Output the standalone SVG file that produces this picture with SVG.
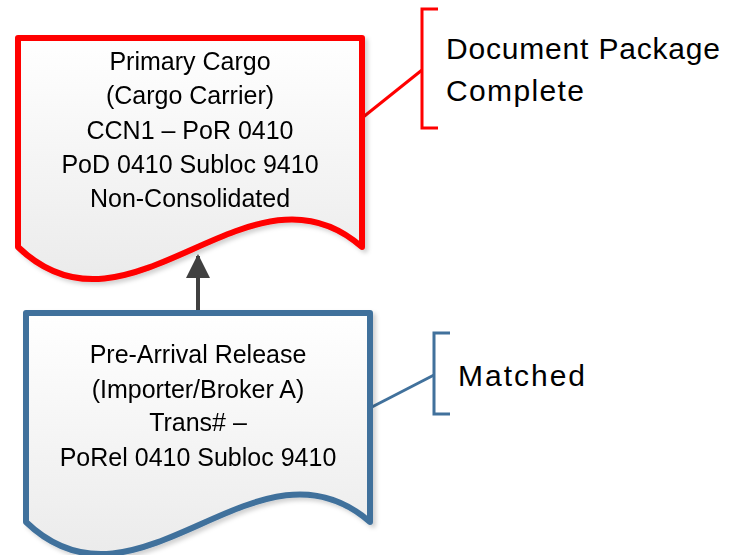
<svg xmlns="http://www.w3.org/2000/svg" width="736" height="555" viewBox="0 0 736 555">
<defs>
<linearGradient id="fillg" x1="0" y1="0" x2="0" y2="1">
<stop offset="0" stop-color="#ffffff"/>
<stop offset="1" stop-color="#ebebeb"/>
</linearGradient>
<filter id="sh" x="-10%" y="-10%" width="130%" height="130%">
<feDropShadow dx="3" dy="3" stdDeviation="2" flood-color="#000" flood-opacity="0.18"/>
</filter>
<marker id="arr" markerWidth="6" markerHeight="6" refX="5.5" refY="3" orient="auto" markerUnits="strokeWidth">
<path d="M0,0 L6,3 L0,6 Z" fill="#404040"/>
</marker>
</defs>
<style>
.doc{fill:url(#fillg);stroke-linejoin:round;}
.txt{font-family:"Liberation Sans",Arial,sans-serif;font-size:25px;fill:#000;text-anchor:middle;}
.lbl{font-family:"Liberation Sans",Arial,sans-serif;font-size:30px;fill:#000;}
</style>
<g id="connectors">
<line x1="198" y1="313" x2="198" y2="256" stroke="#404040" stroke-width="4" marker-end="url(#arr)"/>
<line x1="362" y1="118" x2="422" y2="70" stroke="#ff0000" stroke-width="3"/>
<line x1="370" y1="408" x2="434" y2="375" stroke="#41719c" stroke-width="3"/>
</g>
<g id="primary-cargo" filter="url(#sh)">
<path class="doc" d="M18,38 H362 V247 C250,148 130,355 18,247 Z" stroke="#ff0000" stroke-width="6"/>
<text class="txt" x="190" y="70">Primary Cargo</text>
<text class="txt" x="190" y="104">(Cargo Carrier)</text>
<text class="txt" x="190" y="139">CCN1 – PoR 0410</text>
<text class="txt" x="190" y="173">PoD 0410 Subloc 9410</text>
<text class="txt" x="190" y="207">Non-Consolidated</text>
</g>
<g id="pre-arrival" filter="url(#sh)">
<path class="doc" d="M26,313 H370 V522 C258,423 138,630 26,522 Z" stroke="#41719c" stroke-width="6"/>
<text class="txt" x="198" y="363">Pre-Arrival Release</text>
<text class="txt" x="198" y="398">(Importer/Broker A)</text>
<text class="txt" x="198" y="431">Trans# –</text>
<text class="txt" x="198" y="466">PoRel 0410 Subloc 9410</text>
</g>
<g id="doc-complete-note">
<path d="M438,9 H422 V128 H438" fill="none" stroke="#ff0000" stroke-width="3"/>
<text class="lbl" x="446" y="59" textLength="274">Document Package</text>
<text class="lbl" x="446" y="101" textLength="138">Complete</text>
</g>
<g id="matched-note">
<path d="M450,333 H434 V414 H450" fill="none" stroke="#41719c" stroke-width="3"/>
<text class="lbl" x="458" y="386" textLength="127">Matched</text>
</g>
</svg>
